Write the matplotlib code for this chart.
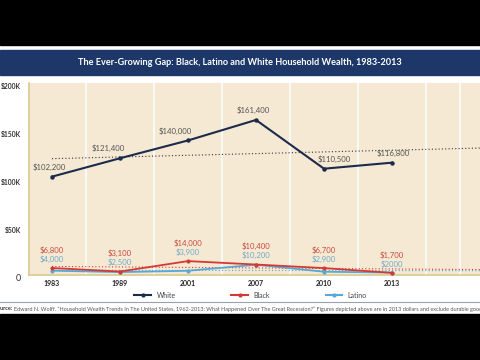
import numpy as np
import matplotlib
matplotlib.use('Agg')
import matplotlib.pyplot as plt
from matplotlib.patches import Rectangle
from matplotlib.lines import Line2D
from matplotlib.transforms import ScaledTranslation

years = ['1983', '1989', '2001', '2007', '2010', '2013']
white = [102200, 121400, 140000, 161400, 110500, 116800]
black = [6800, 3100, 14000, 10400, 6700, 1700]
latino = [4000, 2500, 3900, 10200, 2900, 2000]
white_labels = ['$102,200', '$121,400', '$140,000', '$161,400', '$110,500', '$116,800']
black_labels = ['$6,800', '$3,100', '$14,000', '$10,400', '$6,700', '$1,700']
latino_labels = ['$4,000', '$2,500', '$3,900', '$10,200', '$2,900', '$2000']
yticks = [0, 50000, 100000, 150000, 200000]
ytick_labels = ['0', '$50K', '$100K', '$150K', '$200K']

title = 'The Ever-Growing Gap: Black, Latino and White Household Wealth, 1983-2013'
source = ('Edward N. Wolff. \u201cHousehold Wealth Trends In The United States, 1962-2013: '
          'What Happened Over The Great Recession?\u201d Figures depicted above are in '
          '2013 dollars and exclude durable goods.')

NAVY = '#1c2b4b'
RED = '#d23a33'
BLUE = '#56a8d8'
BEIGE = '#f5e9d3'
TAN = '#d9c98f'

plt.rcParams['font.family'] = ['Lato', 'DejaVu Sans']

fig = plt.figure(figsize=(4.8, 3.6), dpi=100)
fig.patch.set_facecolor('white')

# black bands and title banner
fig.patches.append(Rectangle((0, 1 - 45 / 360), 1, 45 / 360, transform=fig.transFigure,
                             color='black', zorder=0))
fig.patches.append(Rectangle((0, 0), 1, 46 / 360, transform=fig.transFigure,
                             color='black', zorder=0))
fig.patches.append(Rectangle((0, 1 - 75 / 360), 1, 25 / 360, transform=fig.transFigure,
                             color='#1d3868', zorder=0))
fig.text(0.5, 1 - 62.5 / 360, title, color='white', fontsize=6.6, fontweight='bold',
         ha='center', va='center')

ax = fig.add_axes([29 / 480, 85.5 / 360, 1 - 29 / 480, 191.5 / 360])
ax.set_facecolor(BEIGE)
x = np.arange(len(years))
ax.set_xlim(-0.338, 6.294)
ax.set_ylim(0, 200000)

ax.set_xticks(np.arange(0, 6.01, 0.5), minor=True)
ax.grid(True, which='minor', axis='x', color='white', linewidth=1.1)
ax.set_axisbelow(True)
ax.set_xticks(x)
ax.set_xticklabels(years, fontsize=5, fontweight='bold', color='#222222')
ax.set_yticks(yticks)
ax.set_yticklabels(ytick_labels, fontsize=4.9, fontweight='bold', color='#333333')
ax.tick_params(length=0, which='both')
ax.tick_params(axis='x', pad=4)
ax.tick_params(axis='y', pad=6)
for lab in ax.get_yticklabels():
    lab.set_transform(lab.get_transform() + ScaledTranslation(0, -3 / 100, fig.dpi_scale_trans))
ax.get_yticklabels()[0].set_fontsize(6.5)
ax.get_yticklabels()[0].set_fontweight('normal')

for side in ['top', 'right']:
    ax.spines[side].set_visible(False)
for side in ['left', 'bottom']:
    ax.spines[side].set_color(TAN)
    ax.spines[side].set_linewidth(1.2)

# linear trend lines
xt = np.array([0, 6.294])
for vals, col in [(white, '#333344'), (black, RED), (latino, BLUE)]:
    k, b = np.polyfit(x, vals, 1)
    ax.plot(xt, k * xt + b, linestyle=(0, (1, 2)), color=col, linewidth=0.8, zorder=2)

ax.plot(x, latino, color=BLUE, linewidth=1.3, marker='o', markersize=2, zorder=3)
ax.plot(x, black, color=RED, linewidth=1.3, marker='o', markersize=2, zorder=4)
ax.plot(x, white, color=NAVY, linewidth=1.5, marker='o', markersize=2.2, zorder=5)

white_dx = [-3, -12, -13, -3, 10, 1]
for i in x:
    ax.annotate(white_labels[i], (i, white[i]), xytext=(white_dx[i] * 0.72, 7),
                textcoords='offset points', ha='center', va='center',
                fontsize=5.6, color='#555555')
    ax.annotate(black_labels[i], (i, black[i]), xytext=(0, 13),
                textcoords='offset points', ha='center', va='center',
                fontsize=5.6, color='#c9483d')
    ax.annotate(latino_labels[i], (i, black[i]), xytext=(0, 6.5),
                textcoords='offset points', ha='center', va='center',
                fontsize=5.6, color='#72a9c6')

handles = [Line2D([], [], color=NAVY, linewidth=1.5, marker='o', markersize=2),
           Line2D([], [], color=RED, linewidth=1.5, marker='o', markersize=2),
           Line2D([], [], color=BLUE, linewidth=1.5, marker='o', markersize=2)]
fig.legend(handles, ['White', 'Black', 'Latino'], loc='center', ncol=3,
           bbox_to_anchor=(0.522, 1 - 295 / 360), frameon=False, fontsize=5,
           handlelength=2.4, columnspacing=8.0, handletextpad=0.8,
           labelcolor='#444444')

fig.add_artist(Line2D([0, 1], [1 - 302 / 360] * 2, transform=fig.transFigure,
                      color='#9aa3ad', linewidth=0.8))
# source line, runs off both edges like the original
src = fig.text(-6 / 480, 1 - 309 / 360, 'Source: ', fontsize=4.0, fontweight='bold',
               color='#333333', ha='left', va='center')
ax.annotate(source, xy=(1, 0.5), xycoords=src, ha='left', va='center',
            fontsize=4.0, color='#555555', annotation_clip=False)

fig.savefig('out.png', dpi=100)
